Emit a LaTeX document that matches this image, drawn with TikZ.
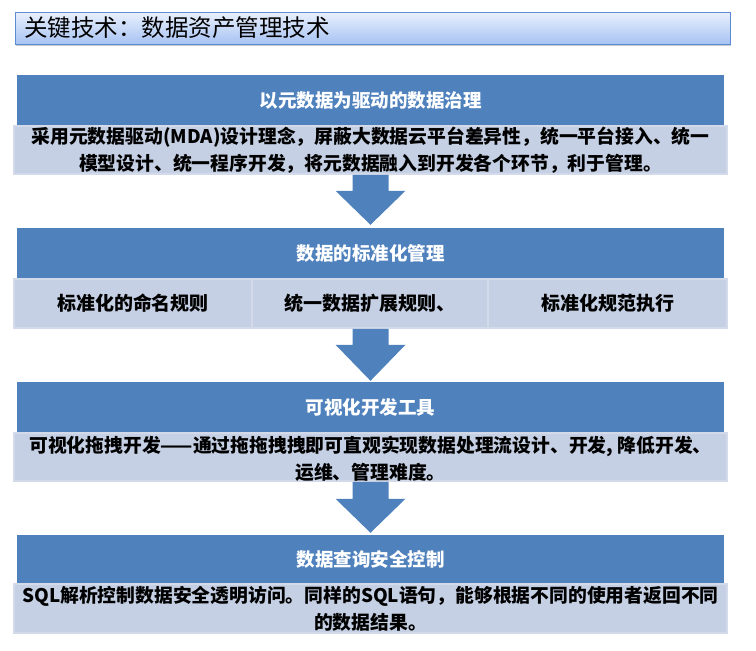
\documentclass[tikz,border=0pt]{standalone}
\usepackage{fontspec}
\setmainfont{Noto Sans CJK SC}
\usetikzlibrary{calc,shadows}
\definecolor{hdr}{HTML}{4F81BD}
\definecolor{bodyc}{HTML}{C5D0E4}
\definecolor{bodyb}{HTML}{D3DAE9}
\definecolor{ttop}{HTML}{E9F0FD}
\definecolor{tbot}{HTML}{A7C3F3}
\definecolor{tborder}{HTML}{5B8BD0}
\tikzset{
  titlebox/.style={draw=tborder, line width=0.8pt, top color=ttop, bottom color=tbot,
    minimum width=715pt, minimum height=32pt, inner sep=0pt,
    drop shadow={shadow xshift=1pt, shadow yshift=-2pt, opacity=0.35, fill=black!60}},
  hdrbox/.style={fill=hdr, minimum width=707pt, inner sep=0pt, text=white,
    font=\fontsize{18.5}{22}\selectfont\bfseries},
  bodybox/.style={fill=bodyc, draw=bodyb, line width=1.5pt, inner sep=0pt},
  celltext/.style={font=\fontsize{19}{22}\selectfont\bfseries},
  bodytext/.style={align=center, inner sep=0pt, font=\fontsize{18.8}{27}\selectfont\bfseries},
  blockarrow/.style={fill=hdr}
}
\begin{document}
\begin{tikzpicture}[x=1pt,y=-1pt]
\useasboundingbox (0,0) rectangle (756,651);
% title
\node[titlebox] (title) at (372.5,28) {};
\node[anchor=west, inner sep=0pt, font=\fontsize{23.5}{26}\selectfont] (ttext) at (24,28) {关键技术：数据资产管理技术};
% block 1
\node[hdrbox, minimum height=51pt] (h1) at (370.5,100.5) {以元数据为驱动的数据治理};
\node[bodybox, minimum width=713pt, minimum height=48pt] (b1) at (370.5,150) {};
\node[bodytext] (t1) at (370.5,150.5) {采用元数据驱动(MDA)设计理念，屏蔽大数据云平台差异性，统一平台接入、统一\\模型设计、统一程序开发，将元数据融入到开发各个环节，利于管理。};
% block 2
\node[hdrbox, minimum height=51pt] (h2) at (370.5,253.5) {数据的标准化管理};
\node[bodybox, celltext, minimum width=238pt, minimum height=49pt] (c1) at (133,303.5) {标准化的命名规则};
\node[bodybox, celltext, minimum width=236pt, minimum height=49pt] (c2) at (370,303.5) {统一数据扩展规则、};
\node[bodybox, celltext, minimum width=239pt, minimum height=49pt] (c3) at (607.5,303.5) {标准化规范执行};
% block 3
\node[hdrbox, minimum height=51pt] (h3) at (370.5,407.5) {可视化开发工具};
\node[bodybox, minimum width=713pt, minimum height=48pt] (b3) at (370.5,457) {};
\node[bodytext] (t3) at (370.5,459) {可视化拖拽开发——通过拖拖拽拽即可直观实现数据处理流设计、开发, 降低开发、\\运维、管理难度。};
% block 4
\node[hdrbox, minimum height=49pt] (h4) at (370.5,559.5) {数据查询安全控制};
\node[bodybox, minimum width=713pt, minimum height=49pt] (b4) at (370.5,608.5) {};
\node[bodytext] (t4) at (370.5,608.5) {SQL解析控制数据安全透明访问。同样的SQL语句，能够根据不同的使用者返回不同\\的数据结果。};
% arrows
\fill[blockarrow] ($(b1.south)+(-18,0)$) -- ++(0,16) -- ++(-17,0) -- ($(h2.north)+(0,-3)$) -- ($(b1.south)+(35,16)$) -- ++(-17,0) -- ($(b1.south)+(18,0)$) -- cycle;
\fill[blockarrow] ($(c2.south)+(-17.5,0)$) -- ++(0,16) -- ++(-17,0) -- ($(h3.north)+(0,-1)$) -- ($(c2.south)+(35.5,16)$) -- ++(-17,0) -- ($(c2.south)+(18.5,0)$) -- cycle;
\fill[blockarrow] ($(b3.south)+(-18,0)$) -- ++(0,17) -- ++(-17,0) -- ($(h4.north)+(0,-2)$) -- ($(b3.south)+(35,17)$) -- ++(-17,0) -- ($(b3.south)+(18,0)$) -- cycle;
\end{tikzpicture}
\end{document}
